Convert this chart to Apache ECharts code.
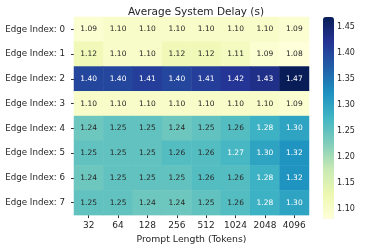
<!DOCTYPE html>
<html><head><meta charset="utf-8">
<script src="https://cdn.jsdelivr.net/npm/echarts@6/dist/echarts.min.js"></script>
<style>html,body{margin:0;padding:0;background:#fff}#c{width:374px;height:249px}</style>
</head><body><div id="c"></div>
<script>
const promptLengths = ['32','64','128','256','512','1024','2048','4096'];
const edgeLabels = ['Edge Index: 0','Edge Index: 1','Edge Index: 2','Edge Index: 3','Edge Index: 4','Edge Index: 5','Edge Index: 6','Edge Index: 7'];
const edge0 = [1.09,1.10,1.10,1.10,1.10,1.10,1.10,1.09];
const edge1 = [1.12,1.10,1.10,1.12,1.12,1.11,1.09,1.08];
const edge2 = [1.40,1.40,1.41,1.40,1.41,1.42,1.43,1.47];
const edge3 = [1.10,1.10,1.10,1.10,1.10,1.10,1.10,1.09];
const edge4 = [1.24,1.25,1.25,1.24,1.25,1.26,1.28,1.30];
const edge5 = [1.25,1.25,1.25,1.26,1.26,1.27,1.30,1.32];
const edge6 = [1.24,1.25,1.25,1.25,1.26,1.26,1.28,1.32];
const edge7 = [1.25,1.25,1.24,1.24,1.25,1.26,1.28,1.30];
const colorbarTicks = [1.10,1.15,1.20,1.25,1.30,1.35,1.40,1.45];
const vMin = 1.08, vMax = 1.47;
const ylgnbu = ['#ffffd9','#edf8b1','#c7e9b4','#7fcdbb','#41b6c4','#1d91c0','#225ea8','#253494','#081d58'];

const rows = [edge0,edge1,edge2,edge3,edge4,edge5,edge6,edge7];
const data = [];
rows.forEach((r,yi)=>r.forEach((v,xi)=>{
  data.push({value:[xi,yi,v], label:{color: v>=1.265 ? '#ffffff' : '#262626'}});
}));
const font = 'DejaVu Sans';
const chart = echarts.init(document.getElementById('c'));
chart.setOption({
  animation:false,
  textStyle:{fontFamily:font},
  title:{text:'Average System Delay (s)', left:191, top:2, textAlign:'center',
    textStyle:{fontFamily:font,fontSize:10.5,fontWeight:'normal',color:'#262626'}},
  grid:[{left:74,right:65,top:17,bottom:30},{left:323,width:11,top:17,height:202}],
  xAxis:[{type:'category',data:promptLengths,gridIndex:0,
      name:'Prompt Length (Tokens)',nameLocation:'middle',nameGap:19,
      nameTextStyle:{fontFamily:font,fontSize:9.3,color:'#262626'},
      axisLine:{show:false},axisTick:{show:true,length:3,lineStyle:{color:'#333'},alignWithLabel:true,interval:0},
      axisLabel:{fontFamily:font,fontSize:9,color:'#262626',margin:6,interval:0},splitArea:{show:false}},
    {type:'value',gridIndex:1,show:false,min:0,max:1}],
  yAxis:[{type:'category',data:edgeLabels,gridIndex:0,inverse:true,
      axisLine:{show:false},axisTick:{show:true,length:3,lineStyle:{color:'#333'},alignWithLabel:true,interval:0},
      axisLabel:{fontFamily:font,fontSize:8.7,color:'#262626',margin:9,interval:0}},
    {type:'value',gridIndex:1,position:'right',min:vMin,max:vMax,
      axisLine:{show:false},splitLine:{show:false},
      axisTick:{show:true,length:3,lineStyle:{color:'#333'},customValues:colorbarTicks},
      axisLabel:{fontFamily:font,fontSize:8,color:'#262626',margin:3,customValues:colorbarTicks,
        formatter:v=>v.toFixed(2)}}],
  visualMap:{type:'continuous',min:vMin,max:vMax,seriesIndex:0,calculable:false,
    left:323,top:17,itemWidth:11,itemHeight:202,padding:0,text:['',''],showLabel:false,
    inRange:{color:ylgnbu},hoverLink:false},
  series:[{type:'heatmap',xAxisIndex:0,yAxisIndex:0,data:data,
    label:{show:true,fontFamily:font,fontSize:7.5,formatter:p=>p.value[2].toFixed(2)},
    itemStyle:{borderWidth:0}}]
});
</script></body></html>
